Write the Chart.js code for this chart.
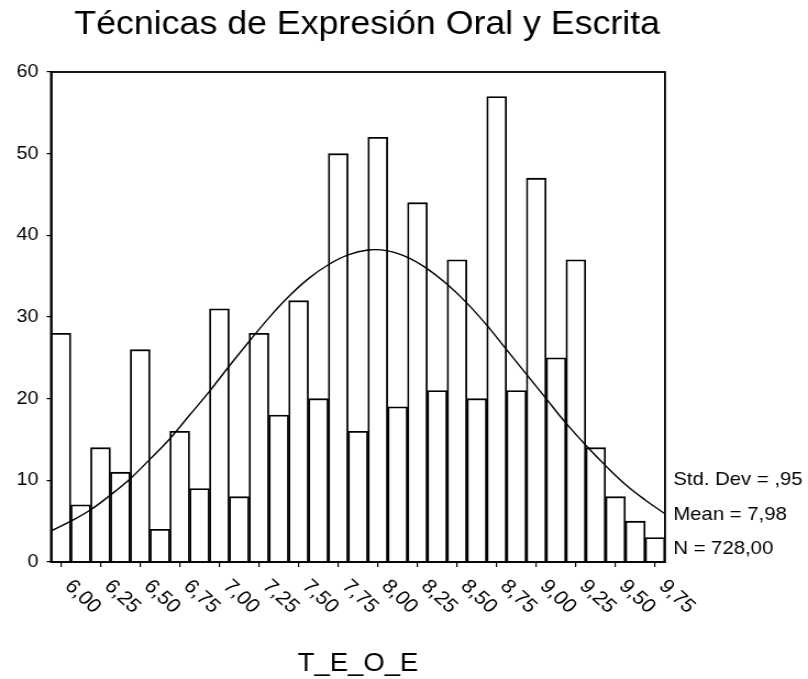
<!DOCTYPE html>
<html>
<head>
<meta charset="utf-8">
<script src="https://cdn.jsdelivr.net/npm/chart.js@4/dist/chart.umd.min.js"></script>
<style>
  body { margin: 0; background: #fff; }
</style>
</head>
<body>
<canvas id="canvas" width="735" height="679" style="display:block;width:808px;height:679px"></canvas>
<script>
const chartTitle = 'Técnicas de Expresión Oral y Escrita';
const axisTitle = 'T_E_O_E';

// bin centers (width 0.125) and counts
const binCenters = [6.000, 6.125, 6.250, 6.375, 6.500, 6.625, 6.750, 6.875, 7.000, 7.125,
  7.250, 7.375, 7.500, 7.625, 7.750, 7.875, 8.000, 8.125, 8.250, 8.375,
  8.500, 8.625, 8.750, 8.875, 9.000, 9.125, 9.250, 9.375, 9.500, 9.625, 9.750];
const counts = [28, 7, 14, 11, 26, 4, 16, 9, 31, 8,
  28, 18, 32, 20, 50, 16, 52, 19, 44, 21,
  37, 20, 57, 21, 47, 25, 37, 14, 8, 5, 3];

// normal curve at the bin edges
const curveX = [5.9375, 6.0625, 6.1875, 6.3125, 6.4375, 6.5625, 6.6875, 6.8125, 6.9375, 7.0625,
  7.1875, 7.3125, 7.4375, 7.5625, 7.6875, 7.8125, 7.9375, 8.0625, 8.1875, 8.3125,
  8.4375, 8.5625, 8.6875, 8.8125, 8.9375, 9.0625, 9.1875, 9.3125, 9.4375, 9.5625,
  9.6875, 9.8125];
const curveY = [3.8, 5.0, 6.4, 8.2, 10.2, 12.6, 15.1, 18.0, 20.9, 24.0,
  27.0, 29.9, 32.5, 34.7, 36.4, 37.6, 38.2, 38.1, 37.3, 35.9,
  34.0, 31.7, 29.0, 26.0, 23.0, 20.0, 17.0, 14.3, 11.8, 9.5,
  7.6, 5.9];

const tickValues = [6.00, 6.25, 6.50, 6.75, 7.00, 7.25, 7.50, 7.75, 8.00, 8.25, 8.50, 8.75, 9.00, 9.25, 9.50, 9.75];
const statLines = ['Std. Dev = ,95', 'Mean = 7,98', 'N = 728,00'];

const FONT = '"Liberation Sans", Arial, sans-serif';

function fmt(v) {
  return v.toFixed(2).replace('.', ',');
}

// frame round the plot and all the free text
const extras = {
  id: 'extras',
  afterDatasetsDraw(chart) {
    const ctx = chart.ctx;
    const a = chart.chartArea;
    ctx.save();
    ctx.strokeStyle = '#000';
    ctx.lineWidth = 1.8;
    ctx.strokeRect(a.left, a.top, a.right - a.left, a.bottom - a.top);
    ctx.restore();
  },
  afterDraw(chart) {
    const ctx = chart.ctx;
    const a = chart.chartArea;
    const x = chart.scales.x;
    ctx.save();
    ctx.fillStyle = '#000';

    ctx.font = '32.5px ' + FONT;
    ctx.textAlign = 'center';
    ctx.textBaseline = 'alphabetic';
    ctx.fillText(chartTitle, 334, 33.5);

    ctx.font = '25px ' + FONT;
    ctx.fillText(axisTitle, (a.left + a.right) / 2, 671);

    // x labels turned 45 degrees clockwise
    ctx.font = '19.5px ' + FONT;
    ctx.textAlign = 'left';
    tickValues.forEach((v) => {
      const px = x.getPixelForValue(v);
      ctx.save();
      ctx.translate(px + 2.5, 587);
      ctx.rotate(Math.PI / 4);
      ctx.fillText(fmt(v), 0, 0);
      ctx.restore();
    });

    ctx.font = '18.5px ' + FONT;
    const baselines = [485, 520, 553.5];
    statLines.forEach((t, i) => {
      ctx.fillText(t, a.right + 7.5, baselines[i]);
    });
    ctx.restore();
  }
};

const canvas = document.getElementById('canvas');
new Chart(canvas, {
  type: 'bar',
  data: {
    datasets: [{
      type: 'line',
      data: curveX.map((v, i) => ({ x: v, y: curveY[i] })),
      borderColor: '#000',
      borderWidth: 1.4,
      pointRadius: 0,
      tension: 0.4,
      order: 0,
    }, {
      type: 'bar',
      data: binCenters.map((v, i) => ({ x: v, y: counts[i] })),
      backgroundColor: '#fff',
      borderColor: '#000',
      borderWidth: 1.8,
      barPercentage: 1,
      categoryPercentage: 1,
      order: 1,
    }],
  },
  plugins: [extras],
  options: {
    responsive: false,
    devicePixelRatio: 1,
    animation: false,
    layout: { padding: { top: 72, right: 130.1, bottom: 0, left: 0 } },
    plugins: {
      legend: { display: false },
      title: { display: false },
      tooltip: { enabled: false },
    },
    scales: {
      x: {
        type: 'linear',
        offset: false,
        min: 5.9375,
        max: 9.8125,
        afterBuildTicks: (axis) => {
          axis.ticks = tickValues.map((v) => ({ value: v }));
        },
        afterFit: (axis) => { axis.height = 117; },
        ticks: { display: false },
        grid: { offset: false, drawOnChartArea: false, drawTicks: true, tickLength: 5, color: '#000', lineWidth: 1.2 },
        border: { display: true, color: '#000', width: 1.8 },
      },
      y: {
        min: 0,
        max: 60,
        afterFit: (axis) => { axis.width = 46.4; },
        ticks: { stepSize: 10, color: '#000', padding: 7.5, font: { family: FONT, size: 18 } },
        grid: { drawOnChartArea: false, drawTicks: true, tickLength: 4, color: '#000', lineWidth: 1.2 },
        border: { display: true, color: '#000', width: 1.8 },
      },
    },
  },
});
// stretch the picture sideways like the reference
canvas.style.width = '808px';
canvas.style.height = '679px';
</script>
</body>
</html>
